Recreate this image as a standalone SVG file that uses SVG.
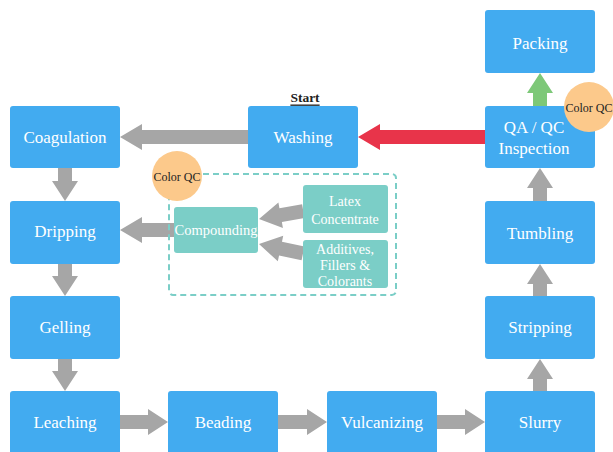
<svg xmlns="http://www.w3.org/2000/svg" width="613" height="452" viewBox="0 0 613 452">
<style>
.b{fill:#42abf0}
.t{fill:#7bcec7}
.bt{font-family:"Liberation Serif","DejaVu Serif",serif;font-size:17px;fill:#fff;text-anchor:middle;dominant-baseline:central}
.tt{font-family:"Liberation Serif","DejaVu Serif",serif;font-size:14px;fill:#fff;text-anchor:middle;dominant-baseline:central}
.qc{fill:#fcc98b}
.qt{font-family:"Liberation Serif","DejaVu Serif",serif;font-size:12px;fill:#222;text-anchor:middle;dominant-baseline:central}
.g{fill:#a6a6a6}
</style>
<rect width="613" height="452" fill="#fff"/>
<g id="connectors">
<polygon class="g" points="248,130 142,130 142,124 120,137 142,150 142,144 248,144"/>
<polygon fill="#e8344a" points="485,130 380,130 380,124 358,137 380,150 380,144 485,144"/>
<polygon class="g" points="174,223 142,223 142,217 120,230 142,243 142,237 174,237"/>
<g transform="translate(259,219) rotate(-10)"><polygon class="g" points="45,-7 22,-7 22,-13 0,0 22,13 22,7 45,7"/></g>
<g transform="translate(259,244) rotate(12)"><polygon class="g" points="45,-7 22,-7 22,-13 0,0 22,13 22,7 45,7"/></g>
<polygon class="g" points="58,168 58,181 52,181 65,201 78,181 72,181 72,168"/>
<polygon class="g" points="58,264 58,276 52,276 65,296 78,276 72,276 72,264"/>
<polygon class="g" points="58,359 58,371 52,371 65,391 78,371 72,371 72,359"/>
<polygon class="g" points="120,415 148,415 148,409 168,422 148,435 148,429 120,429"/>
<polygon class="g" points="278,415 307,415 307,409 327,422 307,435 307,429 278,429"/>
<polygon class="g" points="437,415 465,415 465,409 485,422 465,435 465,429 437,429"/>
<polygon class="g" points="533,391 533,379 527,379 540,359 553,379 547,379 547,391"/>
<polygon class="g" points="533,296 533,284 527,284 540,264 553,284 547,284 547,296"/>
<polygon class="g" points="533,201 533,188 527,188 540,168 553,188 547,188 547,201"/>
<polygon fill="#7dc878" points="533,106 533,93 527,93 540,73 553,93 547,93 547,106"/>
</g>
<g id="group">
<rect x="169" y="174" width="227" height="121" rx="4" fill="none" stroke="#7bcec7" stroke-width="2" stroke-dasharray="6,4"/>
</g>
<g id="start"><text x="305" y="97" font-family="Liberation Serif,DejaVu Serif,serif" font-size="13.5" font-weight="bold" fill="#222" text-anchor="middle" dominant-baseline="central" text-decoration="underline">Start</text></g>
<g id="washing"><rect class="b" x="248" y="106" width="110" height="62" rx="3"/><text class="bt" x="303" y="137">Washing</text></g>
<g id="coagulation"><rect class="b" x="10" y="106" width="110" height="62" rx="3"/><text class="bt" x="65" y="137">Coagulation</text></g>
<g id="dripping"><rect class="b" x="10" y="201" width="110" height="63" rx="3"/><text class="bt" x="65" y="231">Dripping</text></g>
<g id="gelling"><rect class="b" x="10" y="296" width="110" height="63" rx="3"/><text class="bt" x="65" y="327">Gelling</text></g>
<g id="leaching"><rect class="b" x="10" y="391" width="110" height="70" rx="3"/><text class="bt" x="65" y="422">Leaching</text></g>
<g id="beading"><rect class="b" x="168" y="391" width="110" height="70" rx="3"/><text class="bt" x="223" y="422">Beading</text></g>
<g id="vulcanizing"><rect class="b" x="327" y="391" width="110" height="70" rx="3"/><text class="bt" x="382" y="422">Vulcanizing</text></g>
<g id="slurry"><rect class="b" x="485" y="391" width="110" height="70" rx="3"/><text class="bt" x="540" y="422">Slurry</text></g>
<g id="stripping"><rect class="b" x="485" y="296" width="110" height="63" rx="3"/><text class="bt" x="540" y="327">Stripping</text></g>
<g id="tumbling"><rect class="b" x="485" y="201" width="110" height="63" rx="3"/><text class="bt" x="540" y="233">Tumbling</text></g>
<g id="qa"><rect class="b" x="485" y="106" width="110" height="62" rx="3"/><text class="bt" x="534" y="127">QA / QC</text><text class="bt" x="534" y="148">Inspection</text></g>
<g id="packing"><rect class="b" x="485" y="10" width="110" height="63" rx="3"/><text class="bt" x="540" y="43">Packing</text></g>
<g id="compounding"><rect class="t" x="174" y="207" width="84" height="46" rx="3"/><text class="tt" x="216" y="230" style="font-size:14.5px">Compounding</text></g>
<g id="latex"><rect class="t" x="303" y="185" width="85" height="48" rx="3"/><text class="tt" x="345" y="201">Latex</text><text class="tt" x="345" y="219">Concentrate</text></g>
<g id="additives"><rect class="t" x="303" y="240" width="85" height="48" rx="3"/><text class="tt" x="345" y="249">Additives,</text><text class="tt" x="345" y="265">Fillers &amp;</text><text class="tt" x="345" y="281">Colorants</text></g>
<g id="qc1"><circle class="qc" cx="177" cy="176" r="25"/><text class="qt" x="177" y="177">Color QC</text></g>
<g id="qc2"><circle class="qc" cx="589" cy="107" r="25"/><text class="qt" x="589" y="108">Color QC</text></g>
</svg>
